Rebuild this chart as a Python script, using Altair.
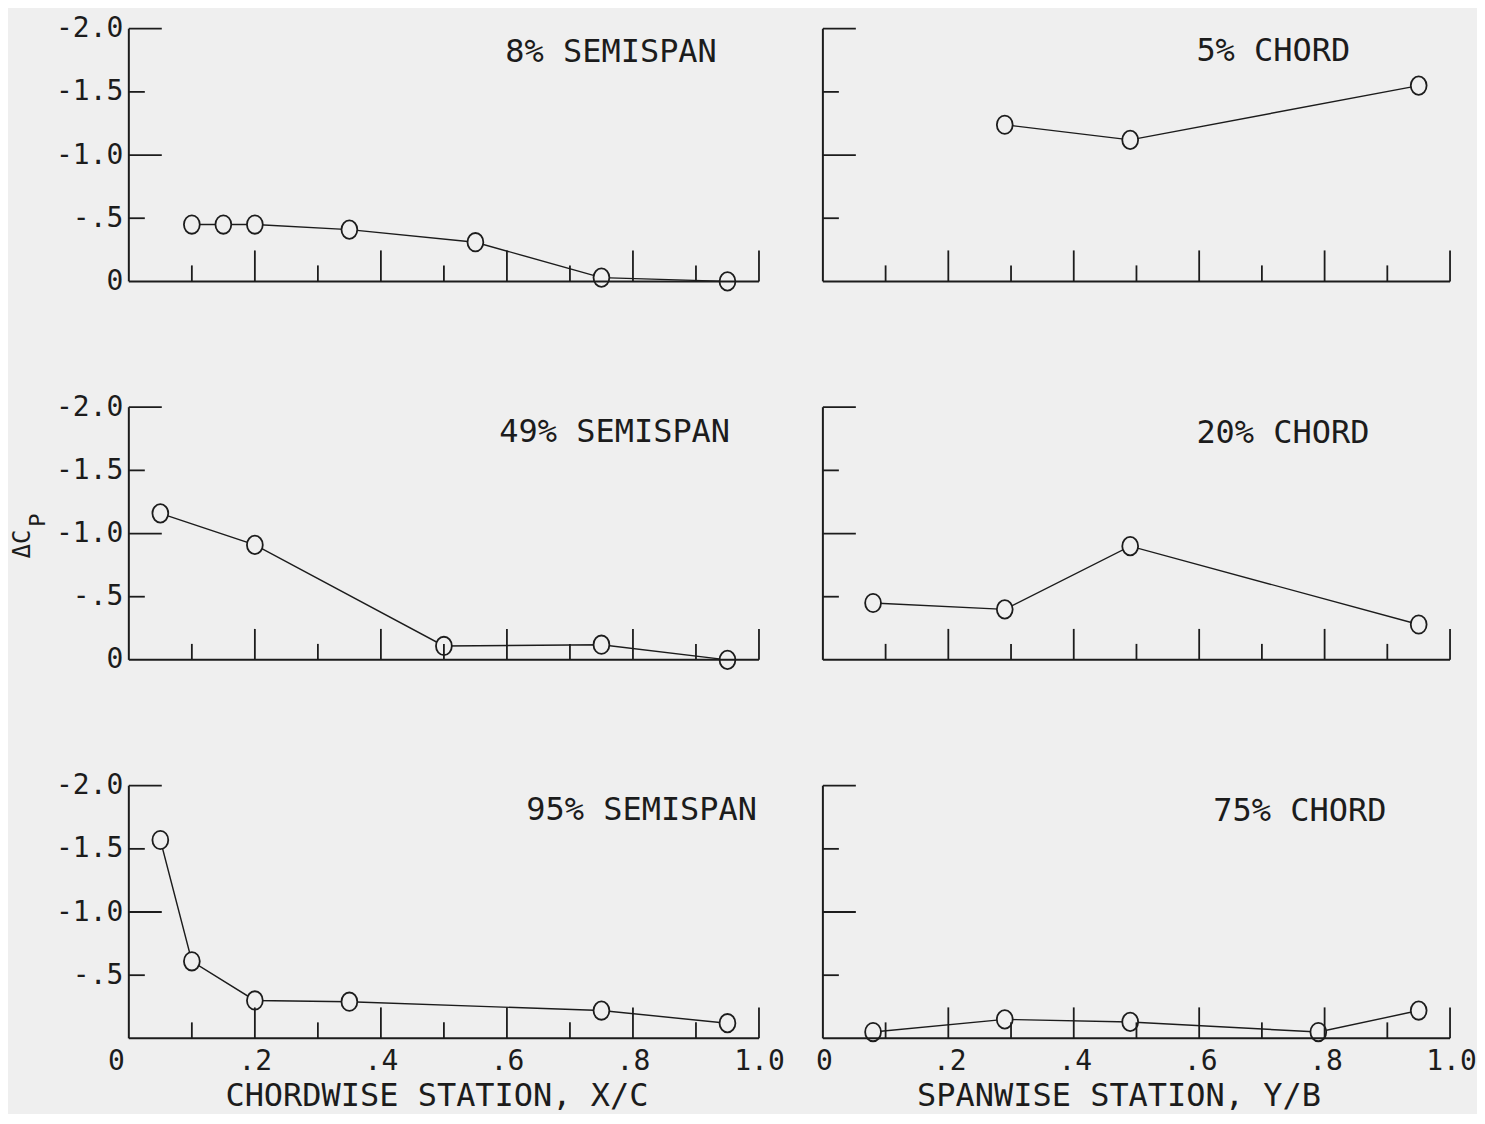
import altair as alt
import pandas as pd

# ---------------- data ----------------
# chordwise distributions (x = X/C, value = delta Cp)
XC_SEMI08 = [0.10, 0.15, 0.20, 0.35, 0.55, 0.75, 0.95]
DCP_SEMI08 = [-0.45, -0.45, -0.45, -0.41, -0.31, -0.03, 0.0]
XC_SEMI49 = [0.05, 0.20, 0.50, 0.75, 0.95]
DCP_SEMI49 = [-1.16, -0.91, -0.11, -0.12, 0.0]
XC_SEMI95 = [0.05, 0.10, 0.20, 0.35, 0.75, 0.95]
DCP_SEMI95 = [-1.57, -0.61, -0.30, -0.29, -0.22, -0.12]

# spanwise distributions (x = Y/B, value = delta Cp)
YB_CH05 = [0.29, 0.49, 0.95]
DCP_CH05 = [-1.24, -1.12, -1.55]
YB_CH20 = [0.08, 0.29, 0.49, 0.95]
DCP_CH20 = [-0.45, -0.40, -0.90, -0.28]
YB_CH75 = [0.08, 0.29, 0.49, 0.79, 0.95]
DCP_CH75 = [-0.05, -0.15, -0.13, -0.05, -0.22]

PANEL_TITLES = ["8% SEMISPAN", "5% CHORD", "49% SEMISPAN", "20% CHORD",
                "95% SEMISPAN", "75% CHORD"]
X_TITLES = ["CHORDWISE STATION, X/C", "SPANWISE STATION, Y/B"]
Y_TITLE_MAIN = "ΔC"
Y_TITLE_SUB = "P"

X_DOMAIN = [0.0, 1.0]
Y_DOMAIN = [-2.0, 0.0]
X_MAJOR = [0.2, 0.4, 0.6, 0.8, 1.0]
X_MINOR = [0.1, 0.3, 0.5, 0.7, 0.9]
Y_MAJOR = [-2.0, -1.0]
Y_MINOR = [-1.5, -0.5]
X_LABEL_VALUES = [0.0, 0.2, 0.4, 0.6, 0.8, 1.0]
X_LABELS = ["0", ".2", ".4", ".6", ".8", "1.0"]
Y_LABEL_VALUES = [-2.0, -1.5, -1.0, -0.5, 0.0]
Y_LABELS = ["-2.0", "-1.5", "-1.0", "-.5", "0"]

# ---------------- style ----------------
INK = "#1c1c1c"
BG = "#efefef"
FONT = "DejaVu Sans Mono"
H = 253
W_LEFT = 631
W_RIGHT = 628
ELLIPSE = "M -0.86 0 A 0.86 1 0 1 0 0.86 0 A 0.86 1 0 1 0 -0.86 0 Z"


def label_expr(values, labels):
    expr = "''"
    for v, lab in reversed(list(zip(values, labels))):
        expr = f"abs(datum.value - ({v})) < 0.000001 ? '{lab}' : {expr}"
    return expr


def make_panel(xs, ys, title, width, title_x, title_y, left_col, bottom_row,
               xtitle=None, xtitle_x=0, ytitle=False):
    xscale = alt.Scale(domain=X_DOMAIN, nice=False, zero=False)
    yscale = alt.Scale(domain=Y_DOMAIN, reverse=True, nice=False, zero=False)
    data = pd.DataFrame({"station": xs, "dcp": ys})

    if bottom_row:
        if left_col:
            offs = {"condition": {"test": "datum.value == 0", "value": -13},
                    "value": 0}
        else:
            offs = 1
        x_axis = alt.Axis(values=X_LABEL_VALUES,
                          labelExpr=label_expr(X_LABEL_VALUES, X_LABELS),
                          domain=False, ticks=False, tickSize=0, grid=False,
                          labelFont=FONT, labelFontSize=28, labelColor=INK,
                          labelPadding=9, labelOffset=offs, labelFlush=False,
                          labelOverlap=False,
                          title=xtitle, titleFont=FONT, titleFontSize=32,
                          titleFontWeight="normal", titleColor=INK,
                          titleX=xtitle_x, titleY=57, titleBaseline="middle",
                          titleAlign="center")
    else:
        x_axis = None

    if left_col:
        yvals = Y_LABEL_VALUES if not bottom_row else Y_LABEL_VALUES[:-1]
        ylabs = Y_LABELS if not bottom_row else Y_LABELS[:-1]
        y_axis = alt.Axis(values=yvals, labelExpr=label_expr(yvals, ylabs),
                          domain=False, ticks=False, tickSize=0, grid=False,
                          labelFont=FONT, labelFontSize=28, labelColor=INK,
                          labelPadding=6, labelFlush=False, labelOverlap=False,
                          labelBaseline="middle", title=None)
    else:
        y_axis = None

    def X(field):
        return alt.X(field, scale=xscale, axis=x_axis)

    def Y(field):
        return alt.Y(field, scale=yscale, axis=y_axis)

    line = alt.Chart(data).mark_line(color=INK, strokeWidth=1.4).encode(
        x=X("station:Q"), y=Y("dcp:Q"))
    pts = alt.Chart(data).mark_point(
        shape=ELLIPSE, size=340, filled=True, fill=BG, fillOpacity=1,
        stroke=INK, strokeWidth=1.8, strokeOpacity=1, opacity=1, clip=False
    ).encode(x=X("station:Q"), y=Y("dcp:Q"))

    yline = alt.Chart(pd.DataFrame({"y0": [Y_DOMAIN[0]], "y1": [Y_DOMAIN[1]]})).mark_rule(
        color=INK, strokeWidth=2).encode(
        x=alt.value(0), y=Y("y0:Q"), y2="y1:Q")
    xline = alt.Chart(pd.DataFrame({"x0": [X_DOMAIN[0]], "x1": [X_DOMAIN[1]]})).mark_rule(
        color=INK, strokeWidth=2).encode(
        y=alt.value(H), x=X("x0:Q"), x2="x1:Q")

    xmaj = alt.Chart(pd.DataFrame({"t": X_MAJOR})).mark_rule(color=INK, strokeWidth=1.8).encode(
        x=X("t:Q"), y=alt.value(H), y2=alt.value(H - 31))
    xmin = alt.Chart(pd.DataFrame({"t": X_MINOR})).mark_rule(color=INK, strokeWidth=1.8).encode(
        x=X("t:Q"), y=alt.value(H), y2=alt.value(H - 16))
    ymaj = alt.Chart(pd.DataFrame({"t": Y_MAJOR})).mark_rule(color=INK, strokeWidth=1.8).encode(
        y=Y("t:Q"), x=alt.value(0), x2=alt.value(33))
    ymin = alt.Chart(pd.DataFrame({"t": Y_MINOR})).mark_rule(color=INK, strokeWidth=1.8).encode(
        y=Y("t:Q"), x=alt.value(0), x2=alt.value(16))

    ttl = alt.Chart(alt.Data(values=[{"label": title}])).mark_text(
        align="left", baseline="middle", font=FONT, fontSize=32, color=INK
    ).encode(x=alt.value(title_x), y=alt.value(title_y), text="label:N")

    layers = [line, pts, yline, xline, xmaj, xmin, ymaj, ymin, ttl]

    if ytitle:
        main = alt.Chart(alt.Data(values=[{"label": Y_TITLE_MAIN}])).mark_text(
            align="center", baseline="middle", font=FONT, fontSize=24, color=INK, angle=270
        ).encode(x=alt.value(-106), y=alt.value(137), text="label:N")
        sub = alt.Chart(alt.Data(values=[{"label": Y_TITLE_SUB}])).mark_text(
            align="center", baseline="middle", font=FONT, fontSize=22, color=INK, angle=270
        ).encode(x=alt.value(-91), y=alt.value(113), text="label:N")
        layers += [main, sub]

    return alt.layer(*layers).properties(width=width, height=H)


p1 = make_panel(XC_SEMI08, DCP_SEMI08, PANEL_TITLES[0], W_LEFT, 377, 23, True, False)
p2 = make_panel(YB_CH05, DCP_CH05, PANEL_TITLES[1], W_RIGHT, 374, 22, False, False)
p3 = make_panel(XC_SEMI49, DCP_SEMI49, PANEL_TITLES[2], W_LEFT, 371, 25, True, False,
                ytitle=True)
p4 = make_panel(YB_CH20, DCP_CH20, PANEL_TITLES[3], W_RIGHT, 374, 26, False, False)
p5 = make_panel(XC_SEMI95, DCP_SEMI95, PANEL_TITLES[4], W_LEFT, 398, 24, True, True,
                xtitle=X_TITLES[0], xtitle_x=308)
p6 = make_panel(YB_CH75, DCP_CH75, PANEL_TITLES[5], W_RIGHT, 391, 25, False, True,
                xtitle=X_TITLES[1], xtitle_x=296)

chart = alt.concat(
    p1, p2, p3, p4, p5, p6,
    columns=2,
    spacing={"row": 126, "column": 64},
    bounds="flush",
    background=BG,
    padding={"left": 3, "top": 6, "right": 0, "bottom": 2},
).configure_view(stroke=None)

chart.save("out.html", embed_options={"renderer": "svg", "actions": False})
